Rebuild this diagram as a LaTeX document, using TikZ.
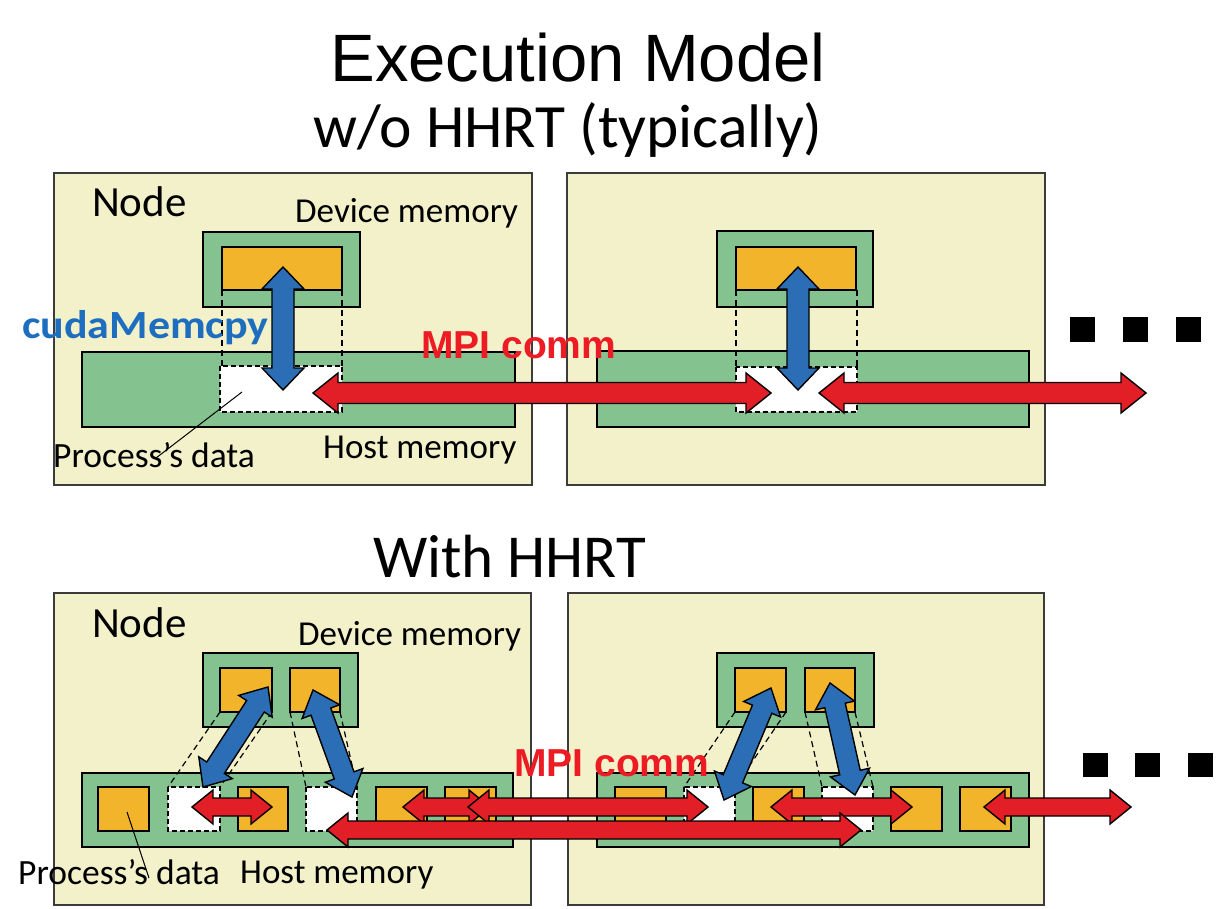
\documentclass[tikz,border=0pt]{standalone}
\usepackage{fontspec}
\setmainfont{Carlito}
\newfontfamily\arialf{Liberation Sans}
\usetikzlibrary{calc}
\definecolor{nodebg}{RGB}{243,241,202}
\definecolor{memgreen}{RGB}{132,194,143}
\definecolor{dataorange}{RGB}{242,180,42}
\definecolor{cpyblue}{RGB}{44,110,182}
\definecolor{mpired}{RGB}{226,30,38}
\definecolor{mpitext}{RGB}{237,28,36}
\definecolor{cudatext}{RGB}{30,110,192}
\definecolor{frame}{RGB}{60,60,60}
\tikzset{
  nodebox/.style={draw=frame, line width=1.6pt, fill=nodebg},
  membox/.style={draw=black, line width=2.6pt, fill=memgreen},
  databox/.style={draw=black, line width=2.6pt, fill=dataorange},
  procbox/.style={draw=black, line width=2pt, dash pattern=on 5pt off 3pt, fill=white},
  guide/.style={draw=black, line width=1.2pt, dash pattern=on 6pt off 4pt},
  lbl/.style={inner sep=0pt, anchor=base west},
  leader/.style={draw=black, line width=1pt},
}
% #1 start, #2 end, #3 shaft half width, #4 head half width, #5 head length, #6 colour
\newcommand{\fatarrow}[6]{%
  \filldraw[fill=#6, draw=black, line width=1.4pt, line join=miter]
  (#1) -- ($(#1)!#5!(#2)!#4!90:(#2)$) -- ($(#1)!#5!(#2)!#3!90:(#2)$)
  -- ($(#2)!#5!(#1)!#3!90:(#2)$) -- ($(#2)!#5!(#1)!#4!90:(#2)$) -- (#2)
  -- ($(#2)!#5!(#1)!#4!-90:(#2)$) -- ($(#2)!#5!(#1)!#3!-90:(#2)$)
  -- ($(#1)!#5!(#2)!#3!-90:(#2)$) -- ($(#1)!#5!(#2)!#4!-90:(#2)$) -- cycle;}
\begin{document}
\begin{tikzpicture}[x=1pt,y=-1pt]
\useasboundingbox (0,0) rectangle (1221,909);

% ---------------- titles ----------------
\node[anchor=base, inner sep=0pt, font=\arialf\fontsize{67}{80}\selectfont] (title) at (578,82) {Execution Model};
\node[lbl, font=\fontsize{61.5}{70}\selectfont] (sub1) at (313,148) {w/o HHRT (typically)};
\node[lbl, font=\fontsize{61}{70}\selectfont] (sub2) at (373,577) {With HHRT};

% ================= TOP: without HHRT =================
\draw[nodebox] (54,173) rectangle (532,485);
\draw[nodebox] (567,173) rectangle (1045,485);
% left node
\draw[membox] (203,232) rectangle (360,307);
\draw[databox] (222,247) rectangle (342,290);
\draw[membox] (82,352) rectangle (515,427);
\draw[procbox] (220,366) rectangle (342,412);
\draw[guide] (222,290) -- (222,366);
\draw[guide] (342,290) -- (342,366);
% right node
\draw[membox] (717,231) rectangle (873,307);
\draw[databox] (736,247) rectangle (856,290);
\draw[membox] (597,351) rectangle (1029,427);
\draw[procbox] (736,367) rectangle (857,412);
\draw[guide] (736,290) -- (736,367);
\draw[guide] (857,290) -- (857,367);
% dots
\fill (1070,317) rectangle (1095,342);
\fill (1123,317) rectangle (1148,342);
\fill (1176,317) rectangle (1201,342);
% arrow end points
\coordinate (tBLa) at (283,267); \coordinate (tBLb) at (283,390);
\coordinate (tBRa) at (798,267); \coordinate (tBRb) at (798,390);
\coordinate (tR1a) at (313,393); \coordinate (tR1b) at (771,393);
\coordinate (tR2a) at (819,393); \coordinate (tR2b) at (1146,393);
\fatarrow{tBLa}{tBLb}{11pt}{21pt}{22pt}{cpyblue}
\fatarrow{tBRa}{tBRb}{11pt}{21pt}{22pt}{cpyblue}
\fatarrow{tR1a}{tR1b}{10.5pt}{20pt}{25pt}{mpired}
\fatarrow{tR2a}{tR2b}{10.5pt}{20pt}{25pt}{mpired}
% leader
\coordinate (tLa) at (242,392); \coordinate (tLb) at (156,458);
\draw[leader] (tLa) -- (tLb);
% labels
\node[lbl, font=\fontsize{43}{50}\selectfont] (tnode) at (92,217) {Node};
\node[lbl, font=\fontsize{35}{42}\selectfont] (tdev) at (295,223) {Device memory};
\node[lbl, font=\fontsize{35}{42}\selectfont] (thost) at (323,458) {Host memory};
\node[lbl, font=\fontsize{35.5}{42}\selectfont] (tproc) at (53,467) {Process’s data};
\node[lbl, text=cudatext, font=\fontsize{40}{46}\selectfont\bfseries] (tcuda) at (22,338) {\scalebox{1.1}[1]{cudaMemcpy}};
\node[lbl, text=mpitext, font=\arialf\bfseries\fontsize{39}{46}\selectfont] (tmpi) at (421,358) {MPI comm};

% ================= BOTTOM: with HHRT =================
\draw[nodebox] (54,593) rectangle (531,905);
\draw[nodebox] (568,593) rectangle (1044,905);
% left node
\draw[membox] (203,653) rectangle (358,727);
\draw[databox] (220,668) rectangle (272,712);
\draw[databox] (290,668) rectangle (340,712);
\draw[membox] (82,773) rectangle (513,847);
\draw[databox] (98,787) rectangle (149,831);
\draw[procbox] (168,787) rectangle (220,831);
\draw[databox] (238,787) rectangle (288,831);
\draw[procbox] (306,787) rectangle (357,831);
\draw[databox] (376,787) rectangle (427,831);
\draw[databox] (445,787) rectangle (496,831);
\draw[guide] (220,712) -- (168,787);
\draw[guide] (272,712) -- (220,787);
\draw[guide] (290,712) -- (306,787);
\draw[guide] (340,712) -- (357,787);
% right node
\draw[membox] (717,653) rectangle (874,727);
\draw[databox] (735,668) rectangle (786,712);
\draw[databox] (805,668) rectangle (855,712);
\draw[membox] (597,773) rectangle (1029,847);
\draw[databox] (615,787) rectangle (666,831);
\draw[procbox] (684,787) rectangle (735,831);
\draw[databox] (753,787) rectangle (804,831);
\draw[procbox] (822,787) rectangle (873,831);
\draw[databox] (891,787) rectangle (942,831);
\draw[databox] (960,787) rectangle (1011,831);
\draw[guide] (735,712) -- (684,787);
\draw[guide] (786,712) -- (735,787);
\draw[guide] (805,712) -- (822,787);
\draw[guide] (855,712) -- (873,787);
% dots
\fill (1083,753) rectangle (1108,777);
\fill (1135,753) rectangle (1160,777);
\fill (1188,753) rectangle (1213,777);
% blue arrows
\coordinate (bB1a) at (268,687); \coordinate (bB1b) at (203,787);
\coordinate (bB2a) at (313,690); \coordinate (bB2b) at (352,797);
\coordinate (bB3a) at (771,688); \coordinate (bB3b) at (724,800);
\coordinate (bB4a) at (830,683); \coordinate (bB4b) at (855,795);
\fatarrow{bB1a}{bB1b}{10.5pt}{20pt}{23pt}{cpyblue}
\fatarrow{bB2a}{bB2b}{10.5pt}{20pt}{23pt}{cpyblue}
\fatarrow{bB3a}{bB3b}{10.5pt}{20pt}{23pt}{cpyblue}
\fatarrow{bB4a}{bB4b}{10.5pt}{20pt}{23pt}{cpyblue}
% red arrows
\coordinate (bR1a) at (192,807); \coordinate (bR1b) at (272,807);
\coordinate (bR3a) at (403,807); \coordinate (bR3b) at (490,807);
\coordinate (bR4a) at (468,807); \coordinate (bR4b) at (708,807);
\coordinate (bR5a) at (771,807); \coordinate (bR5b) at (912,807);
\coordinate (bR6a) at (984,807); \coordinate (bR6b) at (1131,807);
\coordinate (bR2a) at (327,830); \coordinate (bR2b) at (861,830);
\fatarrow{bR1a}{bR1b}{9pt}{17pt}{21pt}{mpired}
\fatarrow{bR3a}{bR3b}{9pt}{17pt}{21pt}{mpired}
\fatarrow{bR4a}{bR4b}{9pt}{17pt}{21pt}{mpired}
\fatarrow{bR5a}{bR5b}{9pt}{17pt}{21pt}{mpired}
\fatarrow{bR6a}{bR6b}{9pt}{17pt}{21pt}{mpired}
\fatarrow{bR2a}{bR2b}{9pt}{17pt}{21pt}{mpired}
% leader
\coordinate (bLa) at (127,812); \coordinate (bLb) at (149,878);
\draw[leader] (bLa) -- (bLb);
% labels
\node[lbl, font=\fontsize{43}{50}\selectfont] (bnode) at (92,637) {Node};
\node[lbl, font=\fontsize{35}{42}\selectfont] (bdev) at (298,645) {Device memory};
\node[lbl, font=\fontsize{35}{42}\selectfont] (bhost) at (240,883) {Host memory};
\node[lbl, font=\fontsize{35.5}{42}\selectfont] (bproc) at (18,884) {Process’s data};
\node[lbl, text=mpitext, font=\arialf\bfseries\fontsize{39}{46}\selectfont] (bmpi) at (514,776) {MPI comm};
\end{tikzpicture}
\end{document}
